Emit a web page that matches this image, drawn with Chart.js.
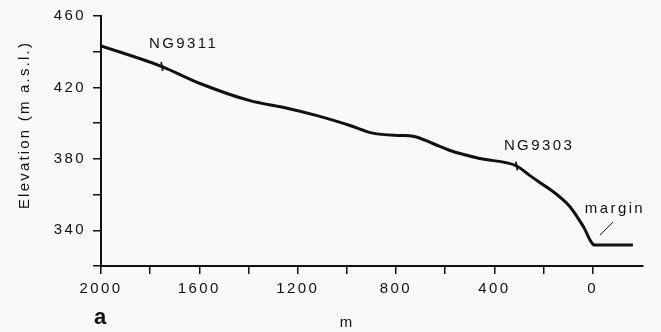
<!DOCTYPE html>
<html>
<head>
<meta charset="utf-8">
<script src="https://cdn.jsdelivr.net/npm/chart.js@4.4.0/dist/chart.umd.min.js"></script>
<style>
  html, body { margin: 0; padding: 0; background: #f9faf8; }
  #wrap { width: 661px; height: 332px; position: relative; }
</style>
</head>
<body>
<div id="wrap"><canvas id="myChart"></canvas></div>
<script>
// surface profile, distance from margin (m) vs elevation (m a.s.l.)
const distance = [2000, 1752, 1597, 1394, 1260, 1121, 987, 894, 784, 731, 650, 580, 458, 309, 255, 187, 133, 92, 39, -9, -164];
const elevation = [443.3, 431.7, 422.2, 412.6, 408.9, 404.2, 398.7, 394.4, 393.1, 392.7, 388.6, 384.7, 380.2, 376.0, 370.6, 364.2, 358.6, 353.2, 342.4, 331.7, 331.7];

// drill sites on the profile
const siteNames = ['NG9311', 'NG9303'];
const siteDistance = [1752, 309];
const siteElevation = [431.7, 376.0];

// ticks
const xTicks = [2000, 1800, 1600, 1400, 1200, 1000, 800, 600, 400, 200, 0];
const xTickLabels = [2000, 1600, 1200, 800, 400, 0];
const yTicks = [320, 340, 360, 380, 400, 420, 440, 460];
const yTickLabels = [340, 380, 420, 460];

const ink = '#111111';
const fontFamily = '"Liberation Sans", Arial, sans-serif';
const spacing = '2.4px';

// text that is not part of an axis
const notes = {
  id: 'notes',
  beforeUpdate(chart) { chart.ctx.letterSpacing = spacing; },
  beforeDraw(chart) { chart.ctx.letterSpacing = spacing; },
  afterDraw(chart) {
    const { ctx, scales: { x, y } } = chart;
    ctx.save();
    ctx.fillStyle = ink;
    ctx.strokeStyle = ink;
    ctx.textAlign = 'center';
    ctx.textBaseline = 'middle';
    ctx.font = '15px ' + fontFamily;
    ctx.letterSpacing = spacing;

    // site labels
    const labelAt = [[1664, 444.4], [218, 387.5]];
    siteNames.forEach((name, i) => {
      ctx.fillText(name, x.getPixelForValue(labelAt[i][0]), y.getPixelForValue(labelAt[i][1]));
    });

    // margin label with pointer
    ctx.fillText('margin', x.getPixelForValue(-91), y.getPixelForValue(351.8));
    ctx.lineWidth = 1;
    ctx.beginPath();
    ctx.moveTo(x.getPixelForValue(-30), y.getPixelForValue(337.3));
    ctx.lineTo(x.getPixelForValue(-83), y.getPixelForValue(344.6));
    ctx.stroke();

    // axis titles
    ctx.letterSpacing = '2.2px';
    ctx.font = '15px ' + fontFamily;
    ctx.fillText('m', 347, 323);
    ctx.save();
    ctx.translate(25, 125);
    ctx.rotate(-Math.PI / 2);
    ctx.fillText('Elevation (m a.s.l.)', 0, 0);
    ctx.restore();

    // panel letter
    ctx.letterSpacing = '0px';
    ctx.font = 'bold 22px ' + fontFamily;
    ctx.fillText('a', 100, 318);
    ctx.restore();
  }
};

const config = {
  type: 'line',
  data: {
    datasets: [{
      label: 'Surface',
      data: distance.map((d, i) => ({ x: d, y: elevation[i] })),
      borderColor: ink,
      borderWidth: 3,
      pointRadius: 0,
      cubicInterpolationMode: 'monotone',
      fill: false
    },
    {
      label: 'Sites',
      data: siteDistance.map((d, i) => ({ x: d, y: siteElevation[i] })),
      showLine: false,
      pointStyle: 'line',
      rotation: 80,
      pointRadius: 4.5,
      borderColor: ink,
      borderWidth: 1.8
    }]
  },
  options: {
    responsive: true,
    maintainAspectRatio: false,
    animation: false,
    layout: { padding: { top: 15, right: 18, left: 0, bottom: 0 } },
    plugins: {
      legend: { display: false },
      tooltip: { enabled: false }
    },
    scales: {
      x: {
        type: 'linear',
        reverse: true,
        min: -205,
        max: 2000,
        afterBuildTicks: (scale) => { scale.ticks = xTicks.map(v => ({ value: v })); },
        afterFit: (scale) => { scale.height = 66; },
        border: { display: true, color: ink, width: 2 },
        grid: { drawOnChartArea: false, drawTicks: true, tickLength: 8, color: ink, lineWidth: 1.5 },
        ticks: {
          autoSkip: false,
          maxRotation: 0,
          padding: 6,
          color: ink,
          font: { family: fontFamily, size: 15 },
          callback: (v) => xTickLabels.includes(v) ? String(v) : ''
        }
      },
      y: {
        type: 'linear',
        min: 320,
        max: 460,
        afterBuildTicks: (scale) => { scale.ticks = yTicks.map(v => ({ value: v })); },
        afterFit: (scale) => { scale.width = 101; },
        border: { display: true, color: ink, width: 2 },
        grid: { drawOnChartArea: false, drawTicks: true, tickLength: 8, color: ink, lineWidth: 1.5 },
        ticks: {
          autoSkip: false,
          padding: 7,
          color: ink,
          font: { family: fontFamily, size: 15 },
          callback: (v) => yTickLabels.includes(v) ? String(v) : ''
        }
      }
    }
  },
  plugins: [notes]
};

const myChart = new Chart(document.getElementById('myChart'), config);
</script>
</body>
</html>
